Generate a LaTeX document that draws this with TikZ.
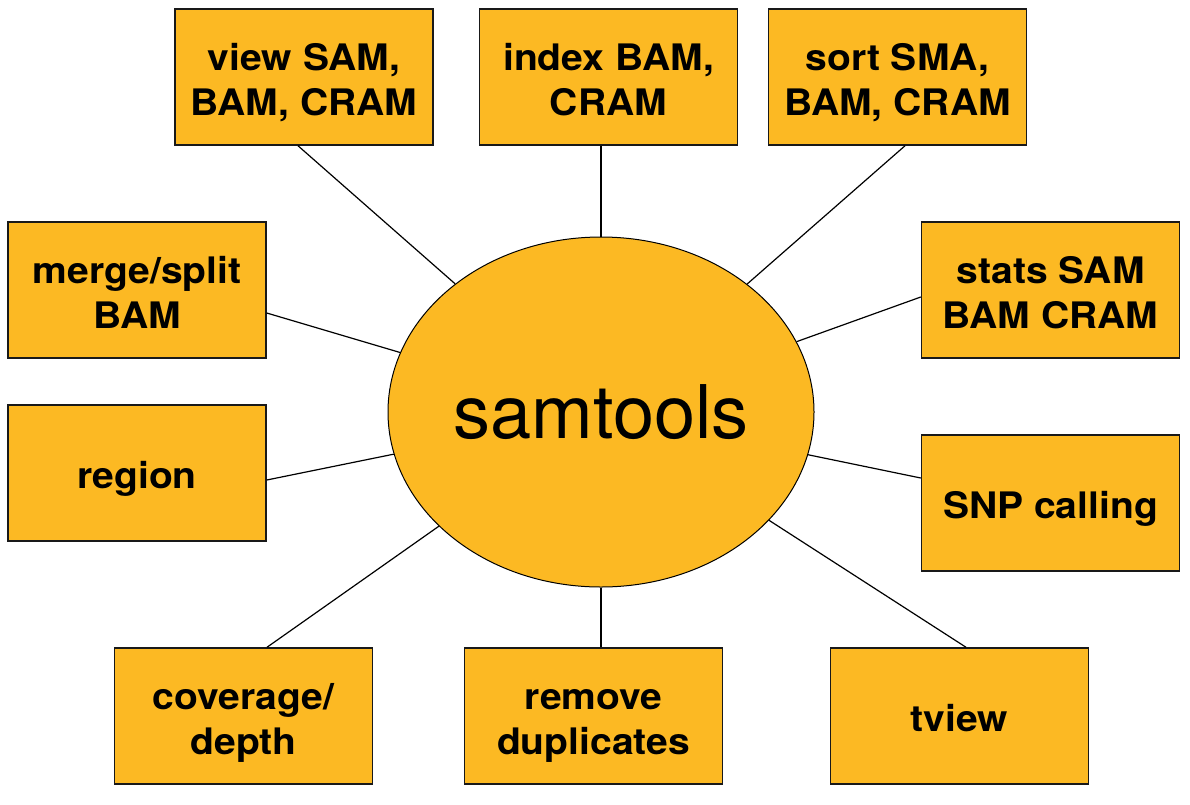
\documentclass[tikz,border=0pt]{standalone}
\usepackage{fontspec}
\setmainfont{TeX Gyre Heros}
\newfontfamily\boxfont[FakeStretch=1.07]{texgyreheros-bold.otf}
\usetikzlibrary{shapes.geometric}
\definecolor{toolfill}{RGB}{252,185,35}
% box label: centred lines, set a little below the geometric centre
\newcommand\boxlabel[1]{\raisebox{-6.5pt}[\height][\depth]{%
  \begin{tabular}{@{}c@{}}#1\end{tabular}}}
\begin{document}
\begin{tikzpicture}[x=1pt,y=-1pt,
  toolbox/.style={draw=black!90, line width=1.5pt, fill=toolfill,
    minimum width=258pt, minimum height=136pt, inner sep=0pt,
    font=\boxfont\fontsize{36.5}{45}\selectfont},
  hub/.style={ellipse, draw=black, line width=1pt, fill=toolfill,
    minimum width=426pt, minimum height=350pt, inner sep=0pt,
    font=\fontsize{74}{80}\selectfont},
  spoke/.style={draw=black, line width=1.2pt}]
\useasboundingbox (0,0) rectangle (1190,804);

% central program
\node[hub] (sam) at (601,412) {\raisebox{-3pt}{samtools}};

% sub-commands around it
\node[toolbox] (view)   at (304,77)    {\boxlabel{view SAM,\\BAM, CRAM}};
\node[toolbox] (index)  at (608.5,77)  {\boxlabel{index BAM,\\CRAM}};
\node[toolbox] (sort)   at (897.5,77)  {\boxlabel{sort SMA,\\BAM, CRAM}};
\node[toolbox] (merge)  at (137,290)   {\boxlabel{merge/split\\BAM}};
\node[toolbox] (stats)  at (1050.5,290){\boxlabel{stats SAM\\BAM CRAM}};
\node[toolbox] (region) at (137,473)   {\boxlabel{region}};
\node[toolbox] (snp)    at (1050.5,503){\boxlabel{SNP calling}};
\node[toolbox] (cover)  at (243.5,716) {\boxlabel{coverage/\\depth}};
\node[toolbox] (rmdup)  at (593.5,716) {\boxlabel{remove\\duplicates}};
\node[toolbox] (tview)  at (959.5,716) {\boxlabel{tview}};

% spoke ends on the boxes
\coordinate (cview)   at ([xshift=-6pt]view.south);
\coordinate (cindex)  at ([xshift=-7.5pt]index.south);
\coordinate (csort)   at ([xshift=7.5pt]sort.south);
\coordinate (cmerge)  at ([yshift=-23pt]merge.east);
\coordinate (cstats)  at ([yshift=-7pt]stats.west);
\coordinate (cregion) at ([yshift=-7pt]region.east);
\coordinate (csnp)    at ([yshift=25pt]snp.west);
\coordinate (ccover)  at ([xshift=23.5pt]cover.north);
\coordinate (crmdup)  at ([xshift=7.5pt]rmdup.north);
\coordinate (ctview)  at ([xshift=6.5pt]tview.north);

\foreach \c in {cview,cindex,csort,cmerge,cstats,cregion,csnp,ccover,crmdup,ctview}
  \draw[spoke] (\c) -- (sam);
\end{tikzpicture}
\end{document}
